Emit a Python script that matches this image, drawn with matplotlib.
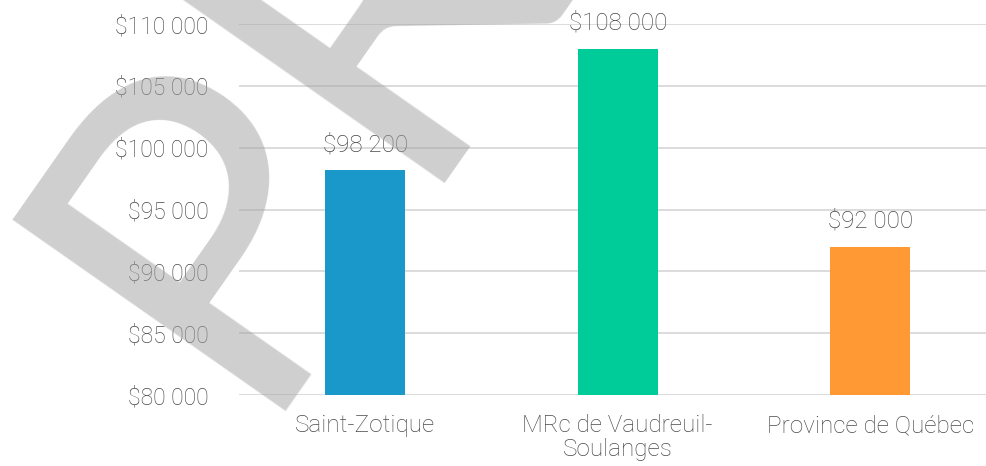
import matplotlib
matplotlib.use("Agg")
import numpy as np
import matplotlib.pyplot as plt
from matplotlib.font_manager import FontProperties
from matplotlib.textpath import TextPath
from matplotlib.ticker import FuncFormatter, MultipleLocator

categories = ["Saint-Zotique", "MRc de Vaudreuil-\nSoulanges", "Province de Québec"]
values = [98200, 108000, 92000]
colours = ["#1b98ca", "#00cc99", "#ff9933"]

TEXT = "#4a4a4a"
GRID = "#d9d9d9"
plt.rcParams["font.family"] = ["Roboto", "DejaVu Sans"]
plt.rcParams["font.weight"] = "light"


def money(v, pos=None):
    return "$" + f"{v:,.0f}".replace(",", " ")


W, H = 986, 466
fig = plt.figure(figsize=(W / 100, H / 100), dpi=100, facecolor="white")
# plot area runs past the right edge of the picture (cropped)
ax = fig.add_axes([239 / W, (H - 395) / H, 757.5 / W, 371 / H])

x = range(len(categories))
bars = ax.bar(x, values, width=0.317, color=colours, zorder=2)
ax.set_xlim(-0.5, len(categories) - 0.5)
ax.set_ylim(80000, 110000)
ax.yaxis.set_major_locator(MultipleLocator(5000))
ax.yaxis.set_major_formatter(FuncFormatter(money))
ax.grid(axis="y", color=GRID, linewidth=1.3, zorder=0)
for s in ax.spines.values():
    s.set_visible(False)
ax.tick_params(axis="y", length=0, pad=22, labelsize=16.5, labelcolor=TEXT)
ax.tick_params(axis="x", length=0, pad=14, labelsize=17.5, labelcolor=TEXT)
ax.set_xticks(list(x))
ax.set_xticklabels(categories, linespacing=1.05)

ax.bar_label(bars, labels=[money(v) for v in values], padding=10,
             fontsize=17.5, color=TEXT)

# --- watermark: rotated 55 deg, foot of the "P" left of the first bar ---
wm_fp = FontProperties(family="Lato", weight="normal")
cap_frac = TextPath((0, 0), "P", size=100, prop=wm_fp).vertices[:, 1].max() / 100.0
size_pt = 333 / cap_frac * 72 / 100
fig.text(243 / W, (H - 411) / H, "PROJET", fontproperties=wm_fp, fontsize=size_pt,
         rotation=55, rotation_mode="anchor", ha="left", va="baseline",
         color="#a0a0a0", alpha=0.5, zorder=10)

fig.savefig("out.png", dpi=100, facecolor="white")
